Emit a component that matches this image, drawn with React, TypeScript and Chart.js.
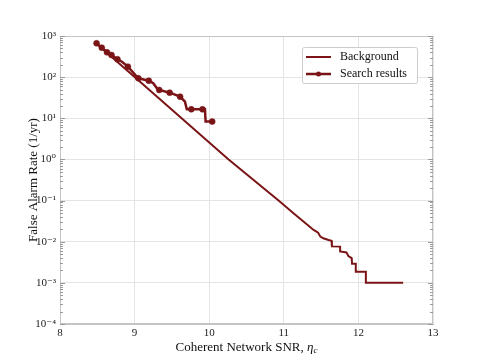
import React, { useEffect, useRef } from 'react';
import { Chart, registerables } from 'chart.js';

Chart.register(...registerables);

// ---- data ----
const bgSNR = [8.49, 9.05, 9.63, 10.26, 10.93, 11.13, 11.4, 11.46, 11.49, 11.53, 11.6, 11.64, 11.645, 11.755, 11.755, 11.84, 11.865, 11.91, 11.915, 11.965, 11.965, 12.1, 12.1, 12.6];
const bgFAR = [650, 84, 10, 1, 0.1, 0.049, 0.0193, 0.0166, 0.0133, 0.0121, 0.011, 0.0105, 0.0077, 0.0076, 0.0058, 0.0055, 0.0045, 0.004, 0.0029, 0.0029, 0.00187, 0.00187, 0.001, 0.001];

// search-result curve vertices; searchEvent = 1 where an event marker is drawn
const searchSNR = [8.49, 8.56, 8.63, 8.69, 8.77, 8.83, 8.91, 9.05, 9.19, 9.25, 9.3, 9.33, 9.47, 9.61, 9.675, 9.7, 9.76, 9.91, 9.943, 9.952, 10.04];
const searchFAR = [665, 520, 402, 345, 272, 237, 180, 94, 82, 71, 53.6, 48.8, 41.9, 33.5, 25.4, 16.5, 16.5, 16.5, 16.5, 8.3, 8.3];
const searchEvent = [1, 1, 1, 1, 1, 0, 1, 1, 1, 0, 0, 1, 1, 1, 0, 0, 1, 1, 0, 0, 1];

const seriesLabels = ['Background', 'Search results'];
const xTickValues = [8, 9, 10, 11, 12, 13];
const yMin = 1e-4;
const yMax = 1e3;
const xTitleMain = 'Coherent Network SNR, ';
const xTitleSym = 'η';
const xTitleSub = 'c';
const yTitle = 'False Alarm Rate (1/yr)';

const COLOR = '#7b1416';
const FONT = "'Liberation Serif', 'DejaVu Serif', serif";

const SUP: Record<string, string> = { '-': '⁻', '0': '⁰', '1': '¹', '2': '²', '3': '³', '4': '⁴', '5': '⁵', '6': '⁶', '7': '⁷', '8': '⁸', '9': '⁹' };
const sup = (n: number) => String(n).split('').map((c) => SUP[c] || c).join('');

const decorPlugin = {
  id: 'decor',
  beforeDatasetsDraw(chart: any) {
    const { ctx, chartArea } = chart;
    const ys = chart.scales.y;
    const { left, right, top, bottom } = chartArea;
    ctx.save();
    ctx.strokeStyle = '#c4c4c4';
    ctx.lineWidth = 1;
    ctx.strokeRect(Math.round(left) + 0.5, Math.round(top) + 0.5, Math.round(right - left) - 1, Math.round(bottom - top) - 1);
    ctx.strokeStyle = '#9a9a9a';
    const lo = Math.round(Math.log10(yMin));
    const hi = Math.round(Math.log10(yMax));
    for (let d = lo; d <= hi; d++) {
      for (let k = 1; k <= 9; k++) {
        const v = k * Math.pow(10, d);
        if (v > yMax * 1.0001) continue;
        const y = Math.round(ys.getPixelForValue(v)) + 0.5;
        const len = k === 1 ? 5 : 3;
        ctx.beginPath();
        ctx.moveTo(left, y);
        ctx.lineTo(left + len, y);
        ctx.moveTo(right, y);
        ctx.lineTo(right - len, y);
        ctx.stroke();
      }
    }
    ctx.restore();
  },
  afterDraw(chart: any) {
    const { ctx, chartArea } = chart;
    ctx.save();
    const cx = (chartArea.left + chartArea.right) / 2;
    const ty = chartArea.bottom + 24;
    ctx.fillStyle = '#111';
    ctx.textBaseline = 'middle';
    ctx.font = `13px ${FONT}`;
    const w1 = ctx.measureText(xTitleMain).width;
    ctx.font = `italic 13px ${FONT}`;
    const w2 = ctx.measureText(xTitleSym).width;
    ctx.font = `italic 9px ${FONT}`;
    const w3 = ctx.measureText(xTitleSub).width;
    let x = cx - (w1 + w2 + w3) / 2;
    ctx.textAlign = 'left';
    ctx.font = `13px ${FONT}`;
    ctx.fillText(xTitleMain, x, ty);
    x += w1;
    ctx.font = `italic 13px ${FONT}`;
    ctx.fillText(xTitleSym, x, ty);
    x += w2;
    ctx.font = `italic 9px ${FONT}`;
    ctx.fillText(xTitleSub, x, ty + 3);

    const lw = 115;
    const lh = 36;
    const lx = chartArea.right - 16 - lw;
    const ly = chartArea.top + 11;
    ctx.fillStyle = 'rgba(255,255,255,0.9)';
    ctx.strokeStyle = '#cccccc';
    ctx.lineWidth = 1;
    ctx.beginPath();
    (ctx as any).roundRect ? (ctx as any).roundRect(lx + 0.5, ly + 0.5, lw, lh, 2) : ctx.rect(lx + 0.5, ly + 0.5, lw, lh);
    ctx.fill();
    ctx.stroke();
    const dsets = chart.data.datasets;
    dsets.forEach((ds: any, i: number) => {
      const ry = ly + 10 + i * 17;
      ctx.strokeStyle = ds.borderColor;
      ctx.lineWidth = ds.borderWidth;
      ctx.beginPath();
      ctx.moveTo(lx + 4, ry);
      ctx.lineTo(lx + 29, ry);
      ctx.stroke();
      const pr = Array.isArray(ds.pointRadius) ? Math.max(...ds.pointRadius) : ds.pointRadius;
      if (pr > 0) {
        ctx.fillStyle = ds.pointBackgroundColor;
        ctx.beginPath();
        ctx.arc(lx + 16.5, ry, pr - 0.5, 0, Math.PI * 2);
        ctx.fill();
      }
      ctx.fillStyle = '#111';
      ctx.font = `12px ${FONT}`;
      ctx.textAlign = 'left';
      ctx.textBaseline = 'middle';
      ctx.fillText(ds.label, lx + 38, ry);
    });
    ctx.restore();
  },
};

export default function App() {
  const ref = useRef<HTMLCanvasElement | null>(null);
  useEffect(() => {
    if (!ref.current) return;
    const chart = new Chart(ref.current, {
      type: 'line',
      data: {
        datasets: [
          {
            label: seriesLabels[0],
            data: bgSNR.map((x, i) => ({ x, y: bgFAR[i] })),
            borderColor: COLOR,
            backgroundColor: COLOR,
            borderWidth: 2,
            pointRadius: 0,
            fill: false,
            tension: 0,
          },
          {
            label: seriesLabels[1],
            data: searchSNR.map((x, i) => ({ x, y: searchFAR[i] })),
            borderColor: COLOR,
            backgroundColor: COLOR,
            pointBackgroundColor: COLOR,
            pointBorderColor: COLOR,
            borderWidth: 2.5,
            pointRadius: searchEvent.map((e) => (e ? 3 : 0)),
            pointBorderWidth: 0.5,
            fill: false,
            tension: 0,
          },
        ],
      },
      options: {
        animation: false,
        responsive: false,
        devicePixelRatio: 1,
        layout: { padding: { top: 36, right: 48, left: 0, bottom: 0 } },
        plugins: { legend: { display: false }, tooltip: { enabled: false } },
        scales: {
          x: {
            type: 'linear',
            min: 8,
            max: 13,
            afterBuildTicks: (s: any) => {
              s.ticks = xTickValues.map((v) => ({ value: v }));
            },
            ticks: {
              font: { family: FONT, size: 11 },
              color: '#222',
              padding: 3,
              callback: (v: any) => String(v),
            },
            grid: { color: '#e4e4e4', drawTicks: false, lineWidth: 1 },
            border: { display: true, color: '#c4c4c4' },
            afterFit: (s: any) => {
              s.height = 37;
            },
          },
          y: {
            type: 'logarithmic',
            min: yMin,
            max: yMax,
            ticks: {
              autoSkip: false,
              font: { family: FONT, size: 11 },
              color: '#222',
              padding: 4,
              callback: (v: any) => {
                const l = Math.log10(Number(v));
                const r = Math.round(l);
                if (Math.abs(l - r) < 1e-6) return '10' + sup(r);
                return null;
              },
            },
            grid: { color: '#e4e4e4', drawTicks: false, lineWidth: 1 },
            border: { display: true, color: '#c4c4c4' },
            title: {
              display: true,
              text: yTitle,
              font: { family: FONT, size: 13 },
              color: '#111',
              padding: { top: 26, bottom: 0 },
            },
            afterFit: (s: any) => {
              s.width = 60;
            },
          },
        },
      },
      plugins: [decorPlugin],
    });
    return () => chart.destroy();
  }, []);
  return (
    <div style={{ position: 'fixed', left: 0, top: 0, width: 481, height: 361, background: '#fff' }}>
      <canvas ref={ref} width={481} height={361} style={{ width: 481, height: 361, display: 'block' }} />
    </div>
  );
}
